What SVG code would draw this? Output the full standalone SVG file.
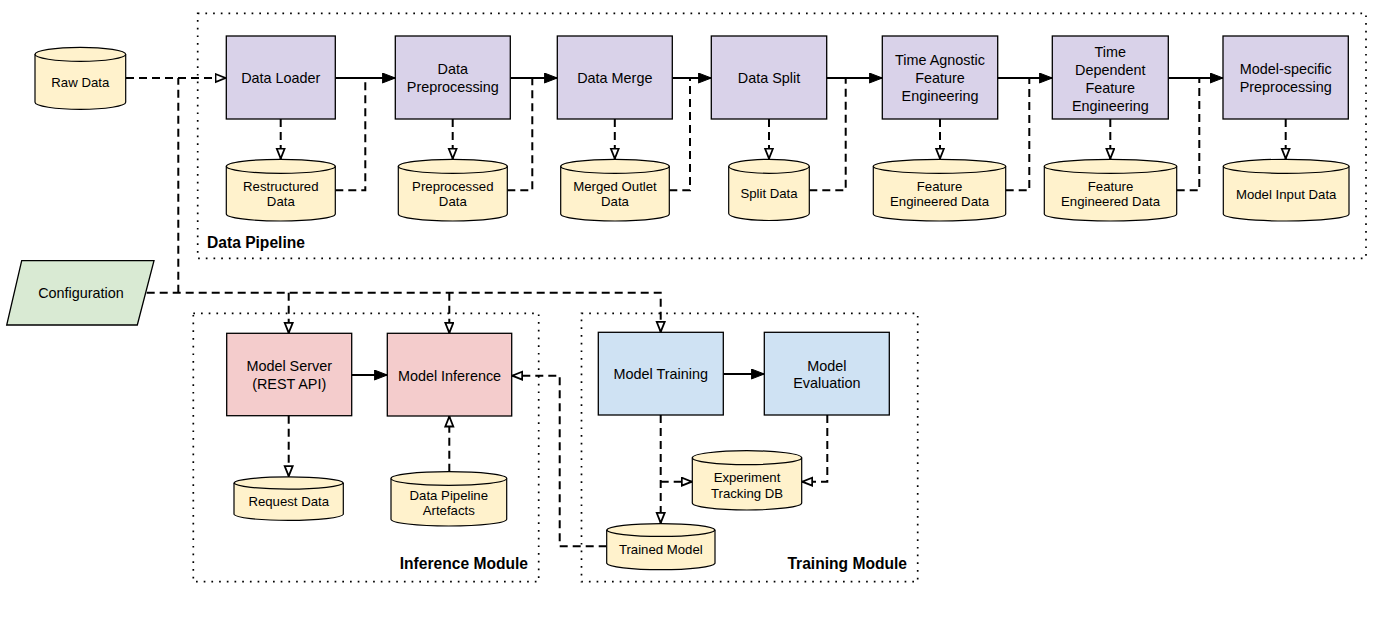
<svg xmlns="http://www.w3.org/2000/svg" width="1383" height="620" viewBox="0 0 1383 620">
<defs>
<style>
.box{stroke:#000;stroke-width:1.3}
.p{fill:#d9d2e9}
.r{fill:#f4cccc}
.b{fill:#cfe2f3}
.cyl{fill:#fff2cc;stroke:#000;stroke-width:1.2}
.cyltop{fill:none;stroke:#000;stroke-width:1.2}
.grp{fill:none;stroke:#000;stroke-width:1.7;stroke-dasharray:1.7 6}
.t{font-family:"Liberation Sans",Arial,sans-serif;font-size:14.4px;fill:#000;text-anchor:middle;dominant-baseline:central}
.ts{font-family:"Liberation Sans",Arial,sans-serif;font-size:13.2px;fill:#000;text-anchor:middle;dominant-baseline:central}
.tb{font-family:"Liberation Sans",Arial,sans-serif;font-size:15.6px;font-weight:bold;fill:#000;dominant-baseline:central}
.solid{fill:none;stroke:#000;stroke-width:2}
.dash{fill:none;stroke:#000;stroke-width:2;stroke-dasharray:8 5}
</style>
<marker id="af" markerUnits="userSpaceOnUse" markerWidth="14" markerHeight="12" refX="13" refY="5" orient="auto">
<path d="M0,0 L13,5 L0,10 Z" fill="#000" stroke="#000" stroke-width="1"/>
</marker>
<marker id="ao" markerUnits="userSpaceOnUse" markerWidth="14" markerHeight="12" refX="11.5" refY="5" orient="auto">
<path d="M1,1 L11,5 L1,9 Z" fill="#fff" stroke="#000" stroke-width="1.8" stroke-linejoin="miter"/>
</marker>
</defs>
<rect width="1383" height="620" fill="#fff"/>

<!-- containers -->
<g id="data-pipeline">
<rect class="grp" x="197.7" y="13.3" width="1168.3" height="245"/>
<text class="tb" x="207" y="242">Data Pipeline</text>
</g>
<g id="inference-module">
<rect class="grp" x="193.3" y="313.3" width="345.4" height="268.4"/>
<text class="tb" x="528" y="563" text-anchor="end">Inference Module</text>
</g>
<g id="training-module">
<rect class="grp" x="581.5" y="313.3" width="336.2" height="268.4"/>
<text class="tb" x="907" y="563" text-anchor="end">Training Module</text>
</g>

<!-- connectors -->
<g id="connectors">
<path class="dash" d="M126,78 H226" marker-end="url(#ao)"/>
<path class="dash" d="M178.3,292.7 V78"/>
<path class="dash" d="M146.7,292.7 H660.7 V332.3" marker-end="url(#ao)"/>
<path class="dash" d="M288.7,292.7 V333.3" marker-end="url(#ao)"/>
<path class="dash" d="M449.3,292.7 V333.3" marker-end="url(#ao)"/>

<path class="solid" d="M335.3,78 H395.3" marker-end="url(#af)"/>
<path class="solid" d="M510.3,78 H557.3" marker-end="url(#af)"/>
<path class="solid" d="M672.3,78 H711.3" marker-end="url(#af)"/>
<path class="solid" d="M826.7,78 H882.3" marker-end="url(#af)"/>
<path class="solid" d="M997.7,78 H1052.3" marker-end="url(#af)"/>
<path class="solid" d="M1168.3,78 H1223" marker-end="url(#af)"/>

<path class="dash" d="M280.7,119 V159" marker-end="url(#ao)"/>
<path class="dash" d="M452.7,119 V159" marker-end="url(#ao)"/>
<path class="dash" d="M614.8,119 V159" marker-end="url(#ao)"/>
<path class="dash" d="M769,119 V159" marker-end="url(#ao)"/>
<path class="dash" d="M940,119 V159" marker-end="url(#ao)"/>
<path class="dash" d="M1110.3,119 V159" marker-end="url(#ao)"/>
<path class="dash" d="M1285.7,119 V159" marker-end="url(#ao)"/>

<path class="dash" d="M335.3,190.3 H365.3 V78"/>
<path class="dash" d="M507.3,190.3 H532.3 V78"/>
<path class="dash" d="M669.3,190.3 H690 V78"/>
<path class="dash" d="M809.3,190.3 H845.7 V78"/>
<path class="dash" d="M1005.7,190.3 H1029.3 V78"/>
<path class="dash" d="M1176.7,190.3 H1199.3 V78"/>

<path class="solid" d="M351.7,375 H387.3" marker-end="url(#af)"/>
<path class="dash" d="M288.7,415.7 V476.7" marker-end="url(#ao)"/>
<path class="dash" d="M449.3,471.7 V416" marker-end="url(#ao)"/>
<path class="dash" d="M606.7,546.3 H559.7 V375.7 H511.7" marker-end="url(#ao)"/>

<path class="solid" d="M723.3,374 H764.3" marker-end="url(#af)"/>
<path class="dash" d="M660.7,415 V523.3" marker-end="url(#ao)"/>
<path class="dash" d="M660.7,481.7 H692.3" marker-end="url(#ao)"/>
<path class="dash" d="M827.3,415 V481.7 H801.7" marker-end="url(#ao)"/>
</g>

<!-- nodes -->
<g id="raw-data">
<path class="cyl" d="M35,54.3 A45.3,7 0 0 1 125.7,54.3 V102.3 A45.3,7 0 0 1 35,102.3 Z"/>
<path class="cyltop" d="M35,54.3 A45.3,7 0 0 0 125.7,54.3"/>
<text class="ts" x="80.3" y="82.3">Raw Data</text>
</g>
<g id="configuration">
<polygon points="21.7,260.7 154,260.7 137.3,325 6.7,325" fill="#d9ead3" stroke="#000" stroke-width="1.3"/>
<text class="t" x="81" y="293">Configuration</text>
</g>

<g id="data-loader">
<rect class="box p" x="226.3" y="36" width="109" height="83"/>
<text class="t" x="280.8" y="78">Data Loader</text>
</g>
<g id="data-preprocessing">
<rect class="box p" x="395.3" y="36" width="115" height="83"/>
<text class="t" x="452.8" y="69.3">Data</text>
<text class="t" x="452.8" y="87.3">Preprocessing</text>
</g>
<g id="data-merge">
<rect class="box p" x="557.3" y="36" width="115" height="83"/>
<text class="t" x="614.8" y="78">Data Merge</text>
</g>
<g id="data-split">
<rect class="box p" x="711.3" y="36" width="115.4" height="83"/>
<text class="t" x="769" y="78">Data Split</text>
</g>
<g id="time-agnostic-fe">
<rect class="box p" x="882.3" y="36" width="115.4" height="83"/>
<text class="t" x="940" y="60">Time Agnostic</text>
<text class="t" x="940" y="78">Feature</text>
<text class="t" x="940" y="96">Engineering</text>
</g>
<g id="time-dependent-fe">
<rect class="box p" x="1052.3" y="36" width="116" height="83"/>
<text class="t" x="1110.3" y="51.5">Time</text>
<text class="t" x="1110.3" y="69.5">Dependent</text>
<text class="t" x="1110.3" y="87.5">Feature</text>
<text class="t" x="1110.3" y="105.5">Engineering</text>
</g>
<g id="model-specific-preprocessing">
<rect class="box p" x="1223" y="36" width="125.3" height="83"/>
<text class="t" x="1285.7" y="69.3">Model-specific</text>
<text class="t" x="1285.7" y="87.3">Preprocessing</text>
</g>

<g id="restructured-data">
<path class="cyl" d="M226.3,166.3 A54.5,7 0 0 1 335.3,166.3 V214 A54.5,7 0 0 1 226.3,214 Z"/>
<path class="cyltop" d="M226.3,166.3 A54.5,7 0 0 0 335.3,166.3"/>
<text class="ts" x="280.8" y="186">Restructured</text>
<text class="ts" x="280.8" y="201.7">Data</text>
</g>
<g id="preprocessed-data">
<path class="cyl" d="M398.3,166.3 A54.5,7 0 0 1 507.3,166.3 V214 A54.5,7 0 0 1 398.3,214 Z"/>
<path class="cyltop" d="M398.3,166.3 A54.5,7 0 0 0 507.3,166.3"/>
<text class="ts" x="452.8" y="186">Preprocessed</text>
<text class="ts" x="452.8" y="201.7">Data</text>
</g>
<g id="merged-outlet-data">
<path class="cyl" d="M560.7,166.3 A54.3,7 0 0 1 669.3,166.3 V214 A54.3,7 0 0 1 560.7,214 Z"/>
<path class="cyltop" d="M560.7,166.3 A54.3,7 0 0 0 669.3,166.3"/>
<text class="ts" x="615" y="186">Merged Outlet</text>
<text class="ts" x="615" y="201.7">Data</text>
</g>
<g id="split-data">
<path class="cyl" d="M728.7,166.3 A40.3,7 0 0 1 809.3,166.3 V213.5 A40.3,7 0 0 1 728.7,213.5 Z"/>
<path class="cyltop" d="M728.7,166.3 A40.3,7 0 0 0 809.3,166.3"/>
<text class="ts" x="769" y="193.7">Split Data</text>
</g>
<g id="feature-engineered-data-1">
<path class="cyl" d="M873.3,166.3 A66.2,7 0 0 1 1005.7,166.3 V214 A66.2,7 0 0 1 873.3,214 Z"/>
<path class="cyltop" d="M873.3,166.3 A66.2,7 0 0 0 1005.7,166.3"/>
<text class="ts" x="939.5" y="186">Feature</text>
<text class="ts" x="939.5" y="201.7">Engineered Data</text>
</g>
<g id="feature-engineered-data-2">
<path class="cyl" d="M1044.3,166.3 A66.2,7 0 0 1 1176.7,166.3 V214 A66.2,7 0 0 1 1044.3,214 Z"/>
<path class="cyltop" d="M1044.3,166.3 A66.2,7 0 0 0 1176.7,166.3"/>
<text class="ts" x="1110.5" y="186">Feature</text>
<text class="ts" x="1110.5" y="201.7">Engineered Data</text>
</g>
<g id="model-input-data">
<path class="cyl" d="M1223.3,166.3 A62.8,7 0 0 1 1349,166.3 V214 A62.8,7 0 0 1 1223.3,214 Z"/>
<path class="cyltop" d="M1223.3,166.3 A62.8,7 0 0 0 1349,166.3"/>
<text class="ts" x="1286.2" y="194.3">Model Input Data</text>
</g>

<g id="model-server">
<rect class="box r" x="226.7" y="333.3" width="125" height="82.4"/>
<text class="t" x="289.2" y="366">Model Server</text>
<text class="t" x="289.2" y="384">(REST API)</text>
</g>
<g id="model-inference">
<rect class="box r" x="387.3" y="333.3" width="124.4" height="82.7"/>
<text class="t" x="449.5" y="375.5">Model Inference</text>
</g>
<g id="request-data">
<path class="cyl" d="M234,483 A54.7,6.3 0 0 1 343.3,483 V514.4 A54.7,6.3 0 0 1 234,514.4 Z"/>
<path class="cyltop" d="M234,483 A54.7,6.3 0 0 0 343.3,483"/>
<text class="ts" x="288.7" y="501.7">Request Data</text>
</g>
<g id="data-pipeline-artefacts">
<path class="cyl" d="M391,478.5 A57.8,6.8 0 0 1 506.7,478.5 V519.2 A57.8,6.8 0 0 1 391,519.2 Z"/>
<path class="cyltop" d="M391,478.5 A57.8,6.8 0 0 0 506.7,478.5"/>
<text class="ts" x="448.8" y="495">Data Pipeline</text>
<text class="ts" x="448.8" y="510.3">Artefacts</text>
</g>

<g id="model-training">
<rect class="box b" x="598.3" y="332.3" width="125" height="82.7"/>
<text class="t" x="660.8" y="374.3">Model Training</text>
</g>
<g id="model-evaluation">
<rect class="box b" x="764.3" y="332.3" width="125" height="82.7"/>
<text class="t" x="826.8" y="365.5">Model</text>
<text class="t" x="826.8" y="383.3">Evaluation</text>
</g>
<g id="experiment-tracking-db">
<path class="cyl" d="M692.3,457.7 A54.7,7 0 0 1 801.7,457.7 V503 A54.7,7 0 0 1 692.3,503 Z"/>
<path class="cyltop" d="M692.3,457.7 A54.7,7 0 0 0 801.7,457.7"/>
<text class="ts" x="747" y="477.7">Experiment</text>
<text class="ts" x="747" y="493.3">Tracking DB</text>
</g>
<g id="trained-model">
<path class="cyl" d="M606.7,530 A54.2,6.7 0 0 1 715,530 V563.3 A54.2,6.7 0 0 1 606.7,563.3 Z"/>
<path class="cyltop" d="M606.7,530 A54.2,6.7 0 0 0 715,530"/>
<text class="ts" x="660.8" y="549.3">Trained Model</text>
</g>
</svg>
